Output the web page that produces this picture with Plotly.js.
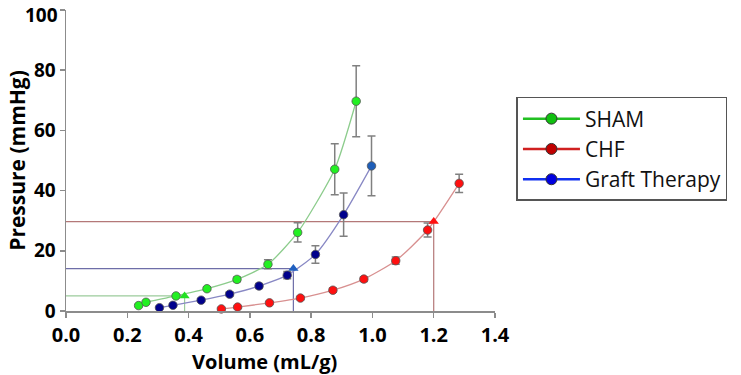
<!DOCTYPE html>
<html>
<head>
<meta charset="utf-8">
<script src="https://cdn.plot.ly/plotly-3.0.1.min.js"></script>
<style>html,body{margin:0;padding:0;background:#fff;}#chart{width:741px;height:375px;}</style>
</head>
<body>
<div id="chart"></div>
<script>
// Volume (mL/g) and pressure (mmHg)
const shamVolume   = [0.237, 0.261, 0.359, 0.460, 0.558, 0.659, 0.756, 0.877, 0.947];
const shamPressure = [1.8, 2.9, 5.0, 7.4, 10.5, 15.5, 26.1, 47.1, 69.7];
const shamError    = [0.4, 0.4, 0.5, 0.6, 0.8, 1.5, 3.2, 8.5, 11.8];

const chfVolume    = [0.507, 0.560, 0.664, 0.765, 0.871, 0.972, 1.076, 1.180, 1.283];
const chfPressure  = [0.7, 1.3, 2.7, 4.3, 6.9, 10.6, 16.7, 26.9, 42.4];
const chfError     = [0.3, 0.4, 0.4, 0.5, 0.7, 0.8, 1.2, 2.3, 3.0];

const graftVolume   = [0.305, 0.349, 0.441, 0.534, 0.630, 0.722, 0.814, 0.906, 0.997];
const graftPressure = [1.1, 1.9, 3.6, 5.6, 8.3, 11.9, 18.8, 32.0, 48.2];
const graftError    = [0.3, 0.4, 0.5, 0.6, 0.8, 1.2, 2.9, 7.2, 9.9];

// Threshold markers (triangles) and their reference lines
const shamThreshold  = [0.387, 5.0];
const chfThreshold   = [1.200, 29.7];
const graftThreshold = [0.742, 14.1];

const seriesNames = ["SHAM", "CHF", "Graft Therapy"];
const xTicks = [0, 0.2, 0.4, 0.6, 0.8, 1.0, 1.2, 1.4];
const xTickLabels = ["0.0", "0.2", "0.4", "0.6", "0.8", "1.0", "1.2", "1.4"];
const yTicks = [0, 20, 40, 60, 80, 100];
const yTickLabels = ["0", "20", "40", "60", "80", ""];
const yTopLabel = "100";   // drawn as an annotation so it is not clipped at the top edge
const xTitle = "Volume (mL/g)";
const yTitle = "Pressure (mmHg)";

function refLines(thr, color) {
  return {
    x: [0, thr[0], thr[0]], y: [thr[1], thr[1], 0],
    mode: "lines", line: {color: color, width: 1.2},
    showlegend: false, hoverinfo: "skip", cliponaxis: false
  };
}
function series(xs, ys, es, lineColor, markerColor) {
  return {
    x: xs, y: ys, mode: "lines+markers",
    line: {color: lineColor, width: 1.3, shape: "spline", smoothing: 0.6},
    marker: {symbol: "circle", size: 8.5, color: markerColor, line: {color: "#555", width: 0.8}},
    error_y: {type: "data", array: es, visible: true, color: "#808080", thickness: 1.5, width: 4},
    showlegend: false, cliponaxis: false
  };
}
function tri(thr, color) {
  return {
    x: [thr[0]], y: [thr[1]], mode: "markers",
    marker: {symbol: "triangle-up", size: 9, color: color, line: {color: color, width: 0}},
    showlegend: false, cliponaxis: false
  };
}
function legendItem(name, lineColor, markerColor) {
  return {
    x: [null], y: [null], name: name, mode: "lines+markers",
    line: {color: lineColor, width: 2.5},
    marker: {symbol: "circle", size: 11, color: markerColor, line: {color: "#333", width: 1}},
    showlegend: true
  };
}

const data = [
  refLines(shamThreshold, "#9CCB9C"),
  refLines(graftThreshold, "#6E6EA8"),
  refLines(chfThreshold, "#B47878"),
  series(chfVolume, chfPressure, chfError, "#D89090", "#FF1010"),
  series(graftVolume, graftPressure, graftError, "#8888C4", ["#00008C","#00008C","#00008C","#00008C","#00008C","#00008C","#00008C","#00008C","#1E5EB8"]),
  series(shamVolume, shamPressure, shamError, "#8CCC8C", "#22F022"),
  tri(shamThreshold, "#22E022"),
  tri(graftThreshold, "#2060C0"),
  tri(chfThreshold, "#FF1010"),
  legendItem(seriesNames[0], "#22C022", "#10C010"),
  legendItem(seriesNames[1], "#D02020", "#C00000"),
  legendItem(seriesNames[2], "#1030F0", "#0000E0")
];

const tickFont = {size: 19, weight: "bold", family: "Open Sans, sans-serif", color: "#000"};

const layout = {
  width: 741, height: 375,
  margin: {l: 65.5, r: 245.5, t: 10, b: 64, pad: 0},
  paper_bgcolor: "#fff", plot_bgcolor: "#fff",
  font: {family: "Open Sans, sans-serif", color: "#000"},
  xaxis: {
    range: [0, 1.4], tickvals: xTicks, ticktext: xTickLabels,
    showgrid: false, zeroline: false, showline: true, linecolor: "#8C8C8C", linewidth: 1.5,
    ticks: "outside", ticklen: 5, tickcolor: "#8C8C8C", tickwidth: 1.5,
    tickfont: {size: 20, weight: "bold", family: "Open Sans, sans-serif"},
    ticklabeloverflow: "allow"
  },
  yaxis: {
    range: [0, 100], tickvals: yTicks, ticktext: yTickLabels,
    showgrid: false, zeroline: false, showline: true, linecolor: "#8C8C8C", linewidth: 1.5,
    ticks: "outside", ticklen: 5, tickcolor: "#8C8C8C", tickwidth: 1.5,
    tickfont: tickFont,
    ticklabeloverflow: "allow",
    title: {text: yTitle, font: {size: 21, weight: "bold"}, standoff: 2}
  },
  annotations: [{
    text: xTitle, xref: "paper", yref: "paper", x: 0.4616, y: -0.116,
    xanchor: "center", yanchor: "top", showarrow: false,
    font: {size: 20, weight: "bold", family: "Open Sans, sans-serif", color: "#000"}
  }, {
    text: yTopLabel, xref: "paper", yref: "paper", x: 0, y: 1,
    xanchor: "right", yanchor: "top", xshift: -6, yshift: 10, showarrow: false,
    font: tickFont
  }],
  legend: {
    x: 1.05, y: 0.711, xanchor: "left", yanchor: "top",
    bordercolor: "#555", borderwidth: 1.5, bgcolor: "#fff",
    font: {size: 21, family: "Open Sans, sans-serif", color: "#111"},
    itemwidth: 57, tracegroupgap: 0
  },
  showlegend: true
};

Plotly.newPlot("chart", data, layout, {displayModeBar: false, staticPlot: true});
</script>
</body>
</html>
